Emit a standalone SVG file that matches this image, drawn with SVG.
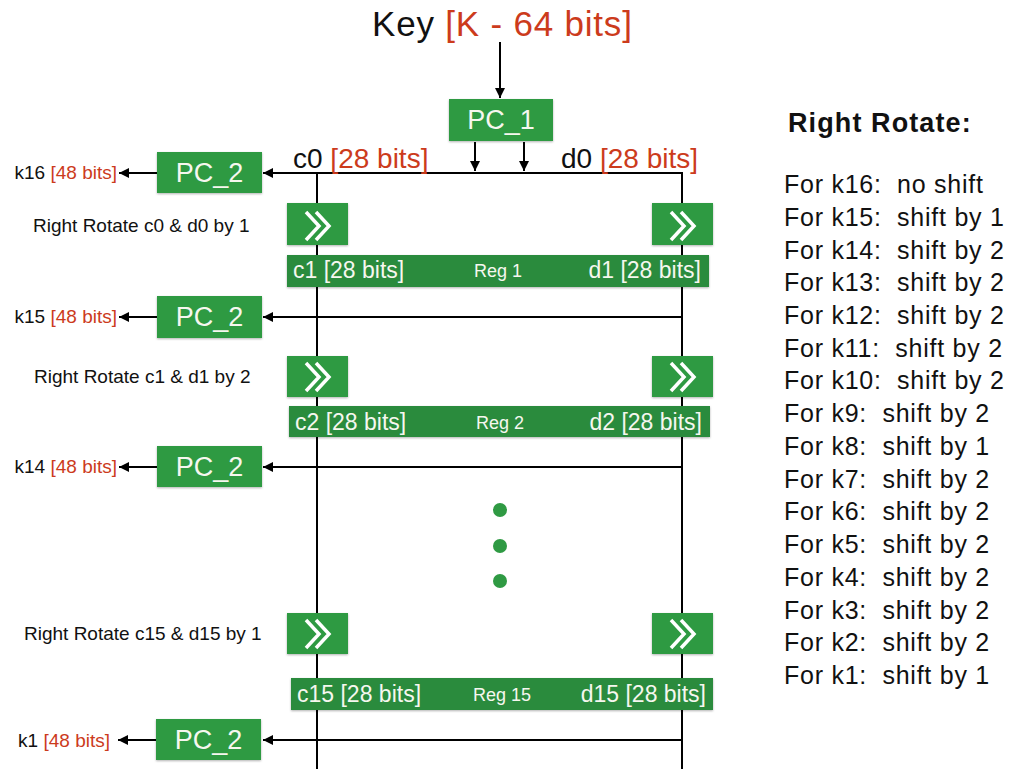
<svg xmlns="http://www.w3.org/2000/svg" width="1010" height="769" viewBox="0 0 1010 769">
<defs>
<marker id="ah" viewBox="0 0 10 10" refX="10" refY="5" markerWidth="11" markerHeight="10" markerUnits="userSpaceOnUse" orient="auto">
<path d="M0,0 L10,5 L0,10 Z" fill="#000"/>
</marker>
<filter id="sh" x="-10%" y="-10%" width="120%" height="130%">
<feDropShadow dx="0" dy="1" stdDeviation="1" flood-color="#000" flood-opacity="0.3"/>
</filter>
<g id="chev">
<polyline points="-13,-14 0,0 -13,14" fill="none" stroke="#fff" stroke-width="3.5"/>
<polyline points="-3,-14 10,0 -3,14" fill="none" stroke="#fff" stroke-width="3.5"/>
</g>
</defs>
<style>
text{font-family:"Liberation Sans",Arial,Helvetica,sans-serif;}
.box{fill:#2f9a43;filter:url(#sh);}
.reg{fill:#2a8b3c;filter:url(#sh);}
.wt{fill:#f6f7ef;}
.red{fill:#cc3b1c;}
.ln{stroke:#000;stroke-width:2;fill:none;}
.arr{stroke:#000;stroke-width:2;fill:none;marker-end:url(#ah);}
.pc{font-size:27px;text-anchor:middle;}
.rl{font-size:23px;}
.rn{font-size:18px;text-anchor:middle;}
.lbl{font-size:19px;}
.lst{font-size:25px;letter-spacing:0.75px;}
</style>
<rect width="1010" height="769" fill="#fff"/>

<g id="connectors">
<line class="arr" x1="500" y1="42" x2="500" y2="98"/>
<line class="arr" x1="475" y1="142" x2="475" y2="171"/>
<line class="arr" x1="524" y1="142" x2="524" y2="171"/>
<polyline class="ln" points="317,769 317,173 682,173 682,769"/>
<line class="arr" x1="317" y1="173" x2="263" y2="173"/>
<line class="arr" x1="682" y1="317" x2="263" y2="317"/>
<line class="arr" x1="682" y1="467" x2="263" y2="467"/>
<line class="arr" x1="682" y1="740" x2="263" y2="740"/>
<line class="arr" x1="157" y1="173" x2="119" y2="173"/>
<line class="arr" x1="157" y1="317" x2="119" y2="317"/>
<line class="arr" x1="157" y1="467" x2="119" y2="467"/>
<line class="arr" x1="156" y1="740" x2="118" y2="740"/>
</g>

<g id="title">
<text x="372" y="36" font-size="35" letter-spacing="0.8" fill="#111">Key <tspan class="red">[K - 64 bits]</tspan></text>
</g>

<g id="pc1">
<rect class="box" x="449" y="99" width="104" height="42"/>
<text class="pc wt" x="501" y="129">PC_1</text>
</g>

<g id="c0label"><text x="293" y="168" font-size="28" fill="#111">c0 <tspan class="red">[28 bits]</tspan></text></g>
<g id="d0label"><text x="561" y="168" font-size="28" fill="#111">d0 <tspan class="red">[28 bits]</tspan></text></g>

<g id="pc2_16">
<rect class="box" x="157" y="152" width="105" height="41"/>
<text class="pc wt" x="209.5" y="182">PC_2</text>
<text class="lbl" x="117" y="179" text-anchor="end" fill="#111">k16 <tspan class="red">[48 bits]</tspan></text>
</g>
<g id="pc2_15">
<rect class="box" x="157" y="296" width="105" height="42"/>
<text class="pc wt" x="209.5" y="326">PC_2</text>
<text class="lbl" x="117" y="323" text-anchor="end" fill="#111">k15 <tspan class="red">[48 bits]</tspan></text>
</g>
<g id="pc2_14">
<rect class="box" x="157" y="446" width="105" height="41"/>
<text class="pc wt" x="209.5" y="476">PC_2</text>
<text class="lbl" x="117" y="473" text-anchor="end" fill="#111">k14 <tspan class="red">[48 bits]</tspan></text>
</g>
<g id="pc2_1">
<rect class="box" x="156" y="719" width="105" height="41"/>
<text class="pc wt" x="208.5" y="749">PC_2</text>
<text class="lbl" x="110" y="747" text-anchor="end" fill="#111">k1 <tspan class="red">[48 bits]</tspan></text>
</g>

<g id="rot1">
<text class="lbl" x="33" y="232" fill="#111">Right Rotate c0 &amp; d0 by 1</text>
<rect class="box" x="287" y="203" width="61" height="42"/>
<use href="#chev" x="319" y="226"/>
<rect class="box" x="652" y="203" width="61" height="42"/>
<use href="#chev" x="684" y="226"/>
</g>
<g id="reg1">
<rect class="reg" x="287" y="255" width="422" height="32"/>
<text class="rl wt" x="293" y="278">c1 [28 bits]</text>
<text class="rn wt" x="498" y="277">Reg 1</text>
<text class="rl wt" x="701" y="278" text-anchor="end">d1 [28 bits]</text>
</g>

<g id="rot2">
<text class="lbl" x="34" y="383" fill="#111">Right Rotate c1 &amp; d1 by 2</text>
<rect class="box" x="287" y="356" width="61" height="41"/>
<use href="#chev" x="319" y="377"/>
<rect class="box" x="652" y="356" width="61" height="41"/>
<use href="#chev" x="684" y="377"/>
</g>
<g id="reg2">
<rect class="reg" x="289" y="406" width="421" height="31"/>
<text class="rl wt" x="295" y="430">c2 [28 bits]</text>
<text class="rn wt" x="500" y="429">Reg 2</text>
<text class="rl wt" x="702" y="430" text-anchor="end">d2 [28 bits]</text>
</g>

<g id="dots" fill="#2f9a43">
<circle cx="500" cy="510" r="7"/>
<circle cx="500" cy="546" r="7"/>
<circle cx="500" cy="581" r="7"/>
</g>

<g id="rot15">
<text class="lbl" x="24" y="640" fill="#111">Right Rotate c15 &amp; d15 by 1</text>
<rect class="box" x="287" y="613" width="61" height="41"/>
<use href="#chev" x="319" y="634"/>
<rect class="box" x="652" y="613" width="61" height="41"/>
<use href="#chev" x="684" y="634"/>
</g>
<g id="reg15">
<rect class="reg" x="291" y="678" width="422" height="32"/>
<text class="rl wt" x="297" y="702">c15 [28 bits]</text>
<text class="rn wt" x="502" y="701">Reg 15</text>
<text class="rl wt" x="706" y="702" text-anchor="end">d15 [28 bits]</text>
</g>

<g id="legend" fill="#111">
<text x="788" y="132" font-size="27" font-weight="bold" letter-spacing="1.1">Right Rotate:</text>
<text class="lst" x="784" y="193" xml:space="preserve">For k16:  no shift</text>
<text class="lst" x="784" y="225.7" xml:space="preserve">For k15:  shift by 1</text>
<text class="lst" x="784" y="258.5" xml:space="preserve">For k14:  shift by 2</text>
<text class="lst" x="784" y="291.2" xml:space="preserve">For k13:  shift by 2</text>
<text class="lst" x="784" y="323.9" xml:space="preserve">For k12:  shift by 2</text>
<text class="lst" x="784" y="356.7" xml:space="preserve">For k11:  shift by 2</text>
<text class="lst" x="784" y="389.4" xml:space="preserve">For k10:  shift by 2</text>
<text class="lst" x="784" y="422.1" xml:space="preserve">For k9:  shift by 2</text>
<text class="lst" x="784" y="454.8" xml:space="preserve">For k8:  shift by 1</text>
<text class="lst" x="784" y="487.6" xml:space="preserve">For k7:  shift by 2</text>
<text class="lst" x="784" y="520.3" xml:space="preserve">For k6:  shift by 2</text>
<text class="lst" x="784" y="553" xml:space="preserve">For k5:  shift by 2</text>
<text class="lst" x="784" y="585.8" xml:space="preserve">For k4:  shift by 2</text>
<text class="lst" x="784" y="618.5" xml:space="preserve">For k3:  shift by 2</text>
<text class="lst" x="784" y="651.2" xml:space="preserve">For k2:  shift by 2</text>
<text class="lst" x="784" y="684" xml:space="preserve">For k1:  shift by 1</text>
</g>
</svg>
